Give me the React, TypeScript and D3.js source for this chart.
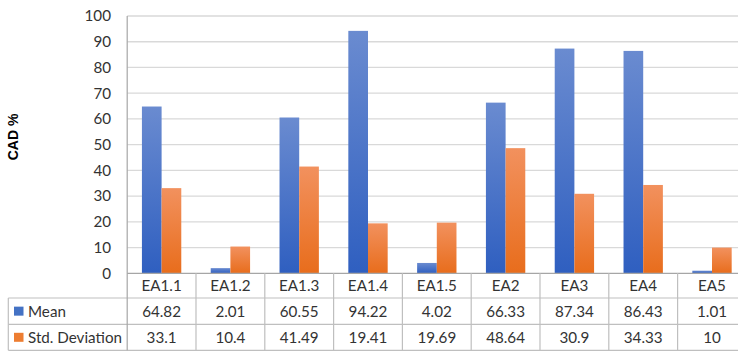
import React from "react";
import * as d3 from "d3";

const categories = ["EA1.1", "EA1.2", "EA1.3", "EA1.4", "EA1.5", "EA2", "EA3", "EA4", "EA5"];
const meanValues = [64.82, 2.01, 60.55, 94.22, 4.02, 66.33, 87.34, 86.43, 1.01];
const stdValues = [33.1, 10.4, 41.49, 19.41, 19.69, 48.64, 30.9, 34.33, 10];
const seriesNames = ["Mean", "Std. Deviation"];
const yTicks = [0, 10, 20, 30, 40, 50, 60, 70, 80, 90, 100];

const W = 738;
const H = 351;
const plotLeft = 127.2;
const bandW = 68.8;
const plotTop = 16;
const plotBottom = 273.3;
const tableLeft = 8.3;
const rowTops = [273.3, 298, 324.3, 350.3];
const FONT = "Lato, 'Open Sans', sans-serif";
const FS = 15.2;
const TEXT = "#333333";
const GRID = "#d9d9d9";
const BORDER = "#bfbfbf";

export default function App() {
  const x = d3
    .scaleBand<string>()
    .domain(categories)
    .range([plotLeft, plotLeft + bandW * categories.length])
    .paddingInner(0)
    .paddingOuter(0);
  const inner = d3
    .scaleBand<string>()
    .domain(seriesNames)
    .range([bandW * 0.214, bandW * 0.786]);
  const y = d3.scaleLinear().domain([0, 100]).range([plotBottom, plotTop]);

  const series = [
    { name: seriesNames[0], values: meanValues, fill: "url(#gBlue)", key: "#4472c4" },
    { name: seriesNames[1], values: stdValues, fill: "url(#gOrange)", key: "#ed7d31" },
  ];

  const right = x.range()[1];

  return (
    <svg
      width={W}
      height={H}
      style={{ position: "absolute", left: 0, top: 0, background: "#fff" }}
      fontFamily={FONT}
    >
      <defs>
        <linearGradient id="gBlue" x1="0" y1="0" x2="0" y2="1">
          <stop offset="0" stopColor="#6a8bd0" />
          <stop offset="1" stopColor="#2f5fc0" />
        </linearGradient>
        <linearGradient id="gOrange" x1="0" y1="0" x2="0" y2="1">
          <stop offset="0" stopColor="#f2915e" />
          <stop offset="1" stopColor="#e86d1c" />
        </linearGradient>
      </defs>

      {/* horizontal gridlines */}
      {yTicks.slice(1).map((t) => (
        <line key={t} x1={plotLeft} x2={right} y1={y(t)} y2={y(t)} stroke={GRID} strokeWidth={1.3} />
      ))}

      {/* y tick labels */}
      {yTicks.map((t) => (
        <text key={t} x={111} y={y(t)} dy="0.35em" textAnchor="end" fontSize={FS} fill={TEXT}>
          {t}
        </text>
      ))}

      {/* y axis title */}
      <text
        transform={`translate(18,137) rotate(-90)`}
        textAnchor="middle"
        fontFamily="'Liberation Sans', Arial, sans-serif"
        fontWeight="bold"
        fontSize={14}
        fill="#000"
      >
        CAD %
      </text>

      {/* bars */}
      {series.map((s) =>
        categories.map((c, i) => {
          const bx = (x(c) as number) + (inner(s.name) as number);
          return (
            <rect
              key={s.name + c}
              x={bx}
              y={y(s.values[i])}
              width={inner.bandwidth()}
              height={plotBottom - y(s.values[i])}
              fill={s.fill}
            />
          );
        })
      )}

      {/* data table: horizontal rules */}
      <line x1={plotLeft} x2={right} y1={plotBottom} y2={plotBottom} stroke="#a6a6a6" strokeWidth={1.2} />
      {rowTops.slice(1).map((ry) => (
        <line key={ry} x1={tableLeft} x2={right} y1={ry} y2={ry} stroke={BORDER} strokeWidth={1.2} />
      ))}

      {/* data table: vertical rules */}
      <line x1={plotLeft} x2={plotLeft} y1={plotTop} y2={rowTops[3]} stroke="#a6a6a6" strokeWidth={1.2} />
      <line x1={tableLeft} x2={tableLeft} y1={rowTops[1]} y2={rowTops[3]} stroke={BORDER} strokeWidth={1.2} />
      {categories.map((c) => {
        const vx = (x(c) as number) + bandW;
        return <line key={"v" + c} x1={vx} x2={vx} y1={plotBottom} y2={rowTops[3]} stroke={BORDER} strokeWidth={1.2} />;
      })}

      {/* category header row */}
      {categories.map((c) => (
        <text
          key={"h" + c}
          x={(x(c) as number) + bandW / 2}
          y={(rowTops[0] + rowTops[1]) / 2}
          dy="0.36em"
          textAnchor="middle"
          fontSize={FS}
          fill={TEXT}
        >
          {c}
        </text>
      ))}

      {/* series rows */}
      {series.map((s, r) => {
        const cy = (rowTops[r + 1] + rowTops[r + 2]) / 2;
        return (
          <g key={"row" + s.name}>
            <rect x={14} y={cy - 4.5} width={9.5} height={9} fill={s.key} />
            <text x={28} y={cy} dy="0.36em" fontSize={FS} fill={TEXT}>
              {s.name}
            </text>
            {categories.map((c, i) => (
              <text
                key={s.name + "v" + c}
                x={(x(c) as number) + bandW / 2}
                y={cy}
                dy="0.36em"
                textAnchor="middle"
                fontSize={FS}
                fill={TEXT}
              >
                {s.values[i]}
              </text>
            ))}
          </g>
        );
      })}
    </svg>
  );
}
